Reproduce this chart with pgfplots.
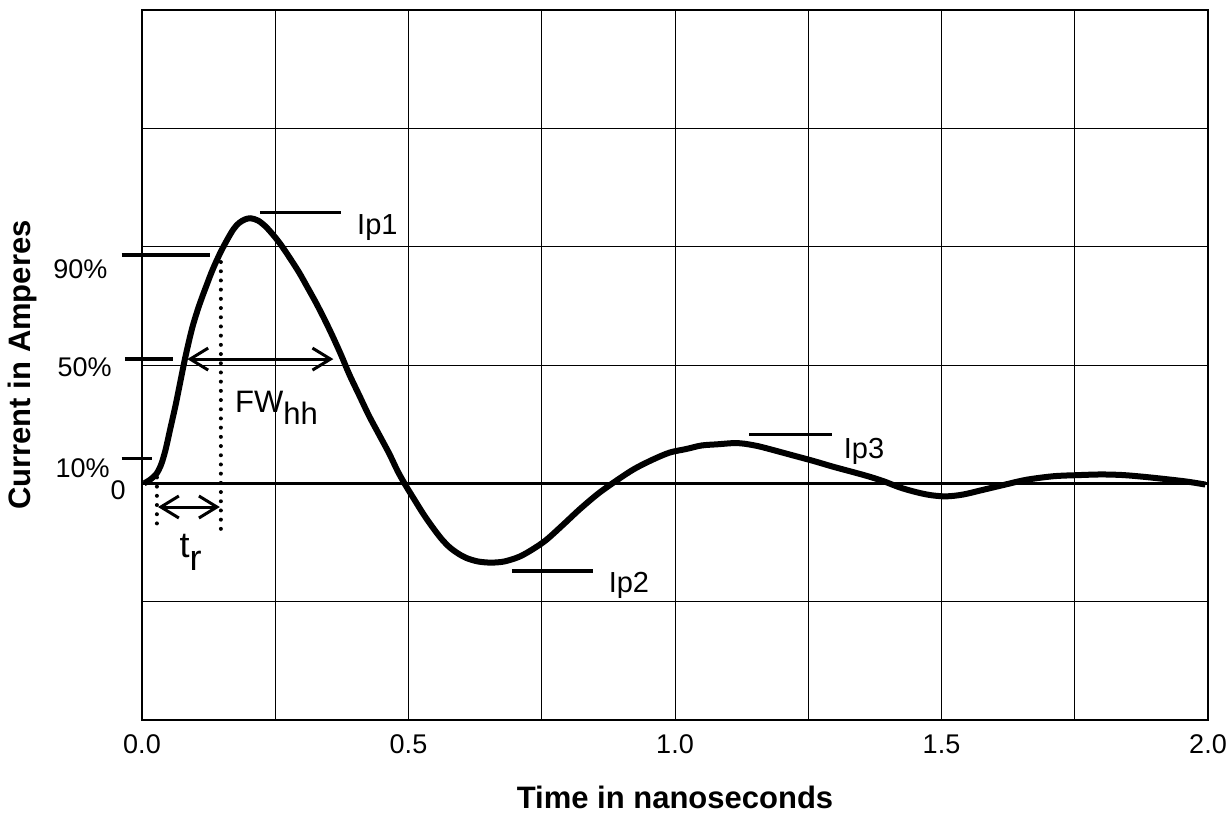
\documentclass[border=0pt]{standalone}
\usepackage{fontspec}
\setmainfont{Liberation Sans}
\usepackage{pgfplots}
\pgfplotsset{compat=1.18}
\usetikzlibrary{arrows.meta}

\begin{document}
\begin{tikzpicture}
\path[use as bounding box] (-71pt,-46.5pt) rectangle (544pt,360pt);
\begin{axis}[
    scale only axis,
    width=533pt,
    height=355pt,
    xmin=0, xmax=2,
    ymin=-2, ymax=4,
    xtick={0,0.5,1,1.5,2},
    xticklabels={0.0,0.5,1.0,1.5,2.0},
    minor xtick={0.25,0.75,1.25,1.75},
    ytick={-2,-1,0,1,2,3,4},
    yticklabels={},
    major tick length=0pt,
    minor tick length=0pt,
    grid=both,
    grid style={black, line width=0.5pt},
    minor grid style={black, line width=0.5pt},
    axis line style={line width=1.2pt},
    xticklabel style={font=\fontsize{13.5}{16}\selectfont, yshift=-4pt},
    xlabel={Time in nanoseconds},
    ylabel={Current in Amperes},
    label style={font=\fontsize{15.5}{18}\selectfont\bfseries},
    xlabel style={at={(axis description cs:0.5,-0.125)}, anchor=base},
    ylabel style={at={(axis description cs:-0.112,0.5)}, anchor=center},
    clip=false,
]
% zero line
\draw[line width=1.4pt] (axis cs:0,0) -- (axis cs:2,0);

% current waveform
\addplot[line width=3pt, smooth, tension=0.5] coordinates {
(0.004,0.00) (0.015,0.03) (0.027,0.08) (0.036,0.16) (0.044,0.28)
(0.053,0.46) (0.063,0.66) (0.072,0.86) (0.081,1.06) (0.094,1.31)
(0.107,1.50) (0.120,1.66) (0.132,1.80) (0.146,1.94) (0.160,2.06)
(0.172,2.15) (0.182,2.20) (0.193,2.23) (0.204,2.24) (0.218,2.22)
(0.232,2.17) (0.246,2.10) (0.260,2.02) (0.278,1.90) (0.295,1.78)
(0.310,1.66) (0.326,1.53) (0.342,1.39) (0.358,1.24) (0.374,1.08)
(0.389,0.92) (0.408,0.74) (0.426,0.57) (0.445,0.41) (0.464,0.25)
(0.480,0.10) (0.495,-0.02) (0.510,-0.13) (0.528,-0.26) (0.545,-0.37)
(0.562,-0.47) (0.577,-0.54) (0.592,-0.59) (0.608,-0.63) (0.630,-0.66)
(0.655,-0.67) (0.680,-0.66) (0.708,-0.62) (0.732,-0.56) (0.758,-0.48)
(0.790,-0.35) (0.821,-0.22) (0.855,-0.09) (0.889,0.02) (0.923,0.12)
(0.958,0.20) (0.990,0.26) (1.021,0.29) (1.050,0.32) (1.080,0.33)
(1.110,0.34) (1.130,0.335) (1.155,0.315) (1.177,0.29) (1.218,0.24)
(1.259,0.19) (1.297,0.14) (1.334,0.095) (1.362,0.06) (1.390,0.02)
(1.422,-0.035) (1.453,-0.075) (1.480,-0.10) (1.509,-0.11) (1.540,-0.095)
(1.578,-0.055) (1.620,-0.01) (1.659,0.03) (1.710,0.06) (1.760,0.07)
(1.800,0.075) (1.840,0.07) (1.880,0.055) (1.922,0.035) (1.960,0.015)
(1.995,-0.01)
};

% level markers
\draw[line width=1.6pt] (axis cs:-0.038,1.93) -- (axis cs:0.128,1.93);
\draw[line width=1.6pt] (axis cs:-0.032,1.05) -- (axis cs:0.058,1.05);
\draw[line width=1.6pt] (axis cs:-0.038,0.21) -- (axis cs:0.018,0.21);
\draw[line width=1.6pt] (axis cs:0.221,2.29) -- (axis cs:0.373,2.29);
\draw[line width=1.6pt] (axis cs:0.694,-0.74) -- (axis cs:0.847,-0.74);
\draw[line width=1.6pt] (axis cs:1.139,0.41) -- (axis cs:1.294,0.41);

% dotted guides
\draw[line width=2pt, line cap=round, dash pattern=on 0pt off 4.6pt]
    (axis cs:0.148,1.87) -- (axis cs:0.148,-0.39);
\draw[line width=2pt, line cap=round, dash pattern=on 0pt off 4.6pt]
    (axis cs:0.028,0.05) -- (axis cs:0.028,-0.38);

% arrows
\draw[line width=1.5pt, {Straight Barb[length=9pt,width=11pt]}-{Straight Barb[length=9pt,width=11pt]}]
    (axis cs:0.085,1.05) -- (axis cs:0.359,1.05);
\draw[line width=1.5pt, {Straight Barb[length=9pt,width=11pt]}-{Straight Barb[length=9pt,width=11pt]}]
    (axis cs:0.030,-0.20) -- (axis cs:0.146,-0.20);

% labels
\begin{scope}[every node/.style={inner sep=0pt, font=\fontsize{13.5}{16}\selectfont}]
\node[anchor=east] at (axis cs:-0.064,1.81) {90\%};
\node[anchor=east] at (axis cs:-0.056,0.98) {50\%};
\node[anchor=east] at (axis cs:-0.060,0.13) {10\%};
\node[anchor=east] at (axis cs:-0.030,-0.06) {0};
\end{scope}
\begin{scope}[every node/.style={inner sep=0pt, anchor=base west, font=\fontsize{14.5}{17}\selectfont}]
\node at (axis cs:0.403,2.10) {Ip1};
\node at (axis cs:0.875,-0.92) {Ip2};
\node at (axis cs:1.316,0.21) {Ip3};
\node[font=\fontsize{15.5}{18}\selectfont] at (axis cs:0.174,0.60) {FW\raisebox{-6pt}{hh}};
\node[font=\fontsize{18}{21}\selectfont] at (axis cs:0.070,-0.63) {t\raisebox{-6.5pt}{r}};
\end{scope}
\end{axis}
\end{tikzpicture}
\end{document}
